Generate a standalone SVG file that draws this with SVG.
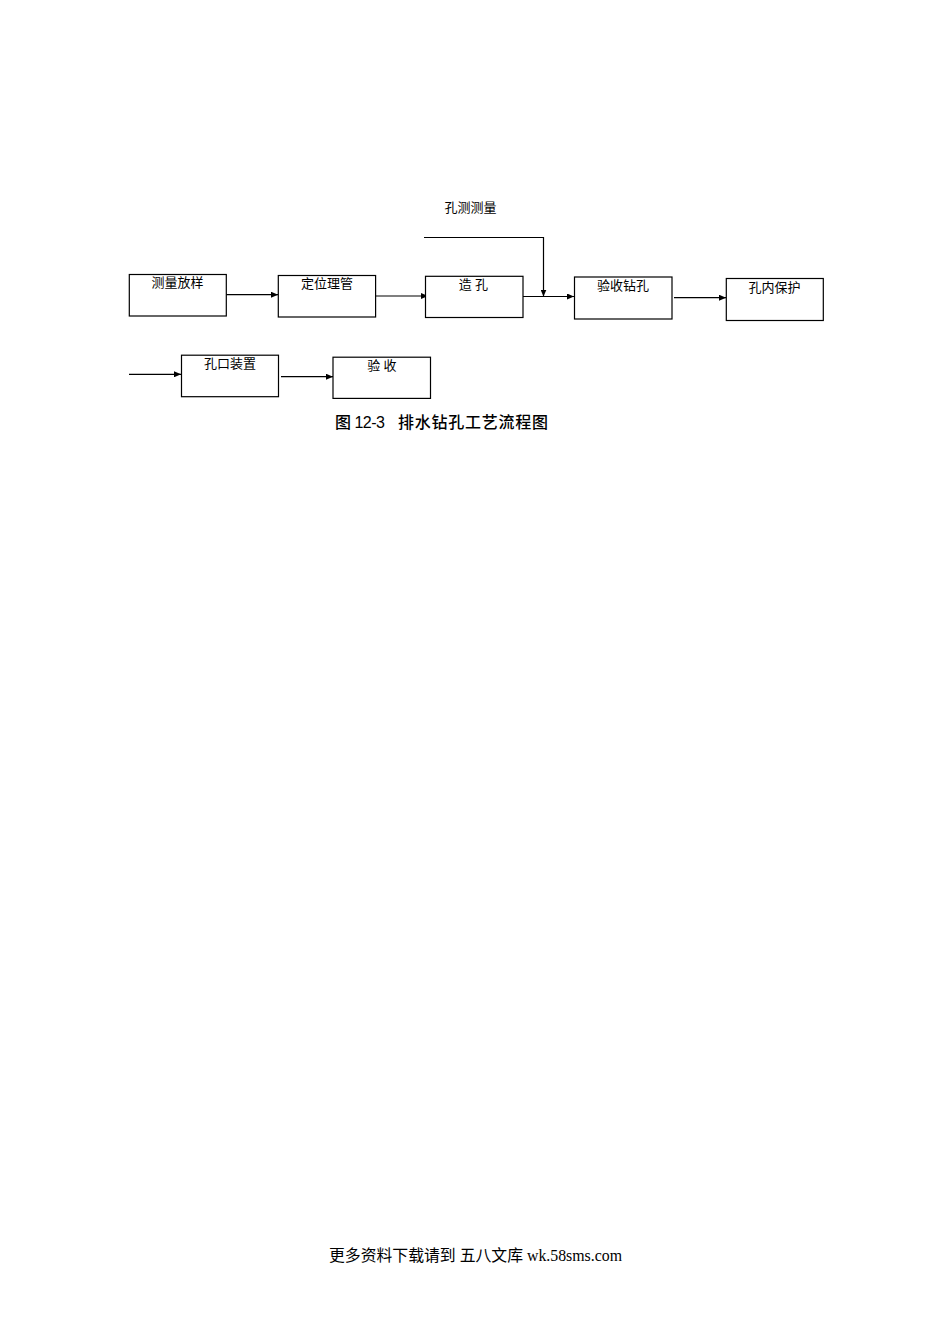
<svg xmlns="http://www.w3.org/2000/svg" width="950" height="1344" viewBox="0 0 950 1344">
<style>
.box{fill:#fff;stroke:#000;stroke-width:1.2}
.lbl{font-family:"Liberation Serif","Noto Sans CJK SC",serif;font-size:13px;fill:#000;text-anchor:middle}
.ln{fill:none;stroke:#000;stroke-width:1.2}
.cap{font-family:"Liberation Sans","Noto Sans CJK SC",sans-serif;font-size:16px;font-weight:500;fill:#000}
.foot{font-family:"Liberation Serif","Noto Sans CJK SC",serif;font-size:16px;fill:#000}
</style>
<defs>
<marker id="ah" markerWidth="7" markerHeight="6" refX="7" refY="3" orient="auto" markerUnits="userSpaceOnUse">
<path d="M0,0 L7,3 L0,6 Z" fill="#000"/>
</marker>
</defs>
<rect width="950" height="1344" fill="#fff"/>
<g id="connectors">
<line class="ln" x1="226" y1="294.7" x2="278" y2="294.7" marker-end="url(#ah)"/>
<line class="ln" x1="376" y1="296" x2="428" y2="296" marker-end="url(#ah)"/>
<polyline class="ln" points="424,237.5 543.5,237.5 543.5,296.5" marker-end="url(#ah)"/>
<line class="ln" x1="523" y1="296.5" x2="574" y2="296.5" marker-end="url(#ah)"/>
<line class="ln" x1="674" y1="297.7" x2="726" y2="297.7" marker-end="url(#ah)"/>
<line class="ln" x1="129" y1="374.3" x2="181" y2="374.3" marker-end="url(#ah)"/>
<line class="ln" x1="281" y1="376.7" x2="333" y2="376.7" marker-end="url(#ah)"/>
</g>
<g id="label-kongceceliang"><text class="lbl" x="470.5" y="212">孔测测量</text></g>
<g id="n1"><rect class="box" x="129.3" y="274.5" width="97" height="41.5"/><text class="lbl" x="177.5" y="287">测量放样</text></g>
<g id="n2"><rect class="box" x="278.3" y="275.5" width="97.3" height="41.5"/><text class="lbl" x="327" y="288">定位理管</text></g>
<g id="n3"><rect class="box" x="425.5" y="276.3" width="97.5" height="41.2"/><text class="lbl" x="473.5" y="289">造 孔</text></g>
<g id="n4"><rect class="box" x="574.5" y="277" width="97.5" height="42"/><text class="lbl" x="623" y="290">验收钻孔</text></g>
<g id="n5"><rect class="box" x="726.3" y="278.5" width="97" height="42"/><text class="lbl" x="774.5" y="291.5">孔内保护</text></g>
<g id="n6"><rect class="box" x="181.5" y="355.2" width="97" height="41.5"/><text class="lbl" x="230" y="368">孔口装置</text></g>
<g id="n7"><rect class="box" x="333" y="357.2" width="97.5" height="41.2"/><text class="lbl" x="382" y="370">验 收</text></g>
<text class="cap" y="428"><tspan x="335" textLength="50" lengthAdjust="spacing">图 12-3</tspan><tspan x="398" textLength="150" lengthAdjust="spacing">排水钻孔工艺流程图</tspan></text>
<text class="foot" x="329" y="1261" textLength="293" lengthAdjust="spacingAndGlyphs">更多资料下载请到 五八文库 wk.58sms.com</text>
</svg>
